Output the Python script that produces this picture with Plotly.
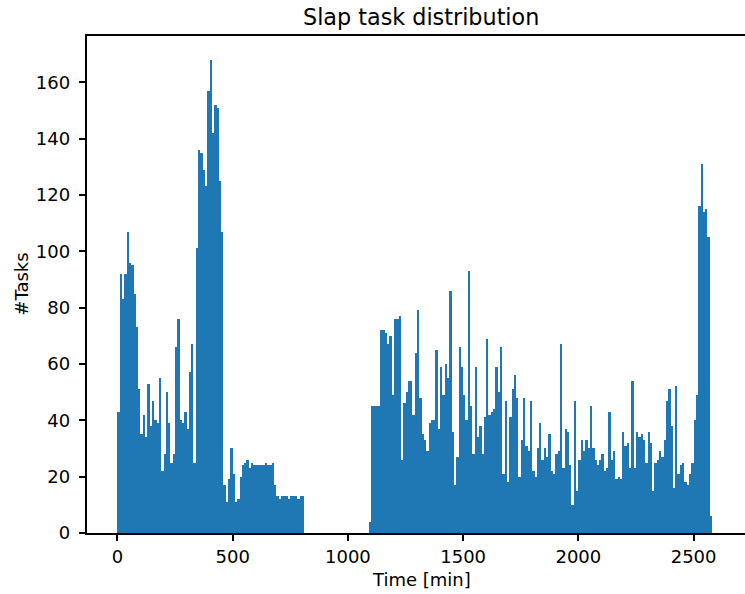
import plotly.graph_objects as go

# Histogram bins are 10 minutes wide
BIN_WIDTH = 10

# First block of slap tasks, bins starting at 0 min
block1_start = 0
block1_counts = [
    43, 92, 83, 92, 107, 96, 95, 85, 73, 51, 35, 42, 34, 53, 38, 47, 40, 39, 55, 22, 28, 50, 39, 25, 28, 66, 76,
    40, 39, 43, 37, 57, 67, 25,
    101, 136, 135, 129, 123, 157, 168, 142, 152, 151, 125, 107,
    17, 11, 19, 30, 21, 11, 12, 20, 24, 25,
    26, 23, 25, 24, 24, 24, 24, 24, 25, 24, 24, 25,
    17, 13, 12, 13, 13, 13, 12, 13, 13, 13, 12, 13, 13,
]

# Second block of slap tasks, bins starting at 1090 min
block2_start = 1090
block2_counts = [
    4, 45, 45, 45, 45, 72, 72, 71, 67, 70, 49, 76, 76, 77, 26, 46, 50, 54, 54, 42, 64, 79, 48, 35, 33, 29, 39,
    40, 40, 65, 37, 59, 49, 60, 55, 86, 36, 17, 27, 66, 59, 49, 40, 93, 45, 28, 59, 34, 38, 28, 41, 69, 42, 43, 44, 59, 50,
    66, 21, 47, 18, 41, 51, 56, 48, 20, 33, 48, 31, 29, 47, 22, 20, 30, 39, 26, 30, 27, 35, 22, 21, 28, 29, 67, 23,
    37, 36, 24, 10, 47, 15, 26, 33, 29, 33, 30, 45, 30, 26, 24, 26, 28, 22, 23, 43, 26, 29, 19, 20, 19, 36, 31, 32,
    23, 54, 23, 36, 34, 35, 33, 25, 36, 32, 15, 25, 26, 29, 27, 33, 47, 51, 38, 16, 52, 21, 24, 25, 18, 17, 21, 25, 40, 49,
    116, 131, 114, 115, 105, 6,
]

x_ticks = [0, 500, 1000, 1500, 2000, 2500]
y_ticks = [0, 20, 40, 60, 80, 100, 120, 140, 160]

BAR_COLOR = "#1f77b4"
FONT = "DejaVu Sans"
TICK_SIZE = 18
TITLE_SIZE = 22.3
LINE_W = 1.5


def bin_centers(start, counts):
    return [start + BIN_WIDTH * (k + 0.5) for k in range(len(counts))]


fig = go.Figure()
for start, counts in ((block1_start, block1_counts), (block2_start, block2_counts)):
    fig.add_trace(go.Bar(
        x=bin_centers(start, counts),
        y=counts,
        width=BIN_WIDTH,
        marker=dict(color=BAR_COLOR, line=dict(width=0)),
        hoverinfo="x+y",
    ))

fig.update_layout(
    width=745, height=594,
    margin=dict(l=87, r=0, t=36, b=61),
    plot_bgcolor="white", paper_bgcolor="white",
    bargap=0, showlegend=False,
    font=dict(family=FONT, size=TICK_SIZE, color="black"),
    annotations=[
        dict(text="Slap task distribution", x=0.5076, y=1.0382, xref="paper", yref="paper",
             xanchor="center", yanchor="middle", showarrow=False,
             font=dict(family=FONT, size=TITLE_SIZE, color="black")),
        dict(text="Time [min]", x=0.5076, y=-0.0935, xref="paper", yref="paper",
             xanchor="center", yanchor="middle", showarrow=False,
             font=dict(family=FONT, size=TICK_SIZE, color="black")),
        dict(text="#Tasks", x=-0.1, y=0.5, xref="paper", yref="paper", textangle=-90,
             xanchor="center", yanchor="middle", showarrow=False,
             font=dict(family=FONT, size=TICK_SIZE, color="black")),
    ],
)

fig.update_xaxes(
    range=[-132, 2723], tickvals=x_ticks, ticks="outside", ticklen=6.5, tickwidth=LINE_W,
    tickcolor="black", showline=True, linecolor="black", linewidth=LINE_W, mirror=True,
    showgrid=False, zeroline=False, ticklabelstandoff=0,
    tickfont=dict(family=FONT, size=TICK_SIZE, color="black"),
)
fig.update_yaxes(
    range=[0, 176.4], tickvals=y_ticks, ticks="outside", ticklen=6.5, tickwidth=LINE_W,
    tickcolor="black", showline=True, linecolor="black", linewidth=LINE_W, mirror=False,
    showgrid=False, zeroline=False, ticklabelstandoff=5,
    tickfont=dict(family=FONT, size=TICK_SIZE, color="black"),
)

fig.write_html("out.html")
